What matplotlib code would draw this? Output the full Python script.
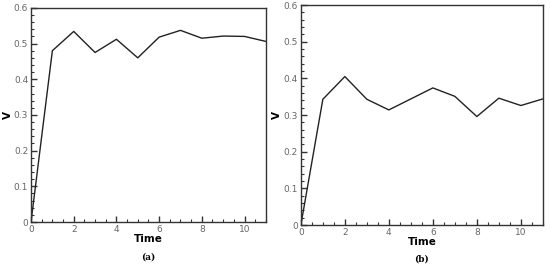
import matplotlib
matplotlib.use('Agg')
import numpy as np
import matplotlib.pyplot as plt
from matplotlib.ticker import MultipleLocator

# data
time = [0, 1, 2, 3, 4, 5, 6, 7, 8, 9, 10, 11]
v_a = [0.0, 0.480, 0.534, 0.475, 0.512, 0.460, 0.518, 0.537, 0.515, 0.521, 0.520, 0.506]
v_b = [0.0, 0.343, 0.405, 0.343, 0.314, 0.344, 0.374, 0.351, 0.296, 0.346, 0.326, 0.344]

fig = plt.figure(figsize=(5.5, 2.66), dpi=100)

#axes rectangles
rect_a = [0.0564, 0.1654, 0.427, 0.805]
rect_b = [0.547, 0.154, 0.44, 0.827]


def panel(rect, y, tag, taglabel_y):
    ax = fig.add_axes(rect)
    ax.plot(time, y, color='#222222', lw=1.0)
    ax.set_xlim(0, 11)
    ax.set_ylim(0, 0.6)
    ax.xaxis.set_major_locator(MultipleLocator(2))
    ax.xaxis.set_minor_locator(MultipleLocator(0.5))
    ax.yaxis.set_major_locator(MultipleLocator(0.1))
    ax.yaxis.set_minor_locator(MultipleLocator(0.02))
    ax.yaxis.set_major_formatter(matplotlib.ticker.FuncFormatter(
        lambda v, p: '0' if abs(v) < 1e-9 else ('%.1f' % v)))
    ax.tick_params(which='both', direction='in', top=False, right=False,
                   labelsize=6.5, labelcolor='#666666', color='#333333')
    ax.tick_params(which='major', length=4, width=1.0, pad=2)
    ax.tick_params(which='minor', length=2, width=0.8)
    for s in ax.spines.values():
        s.set_linewidth(1.0)
        s.set_color('#333333')
    ax.set_xlabel('Time', fontsize=7.5, fontweight='bold', labelpad=0)
    ax.set_ylabel('V', fontsize=7.5, fontweight='bold', labelpad=1)
    fig.text(rect[0] + rect[2] / 2, taglabel_y, tag, ha='center', va='center',
             fontsize=6.5, fontweight='bold', family='DejaVu Serif')
    return ax


panel(rect_a, v_a, '(a)', 0.035)
panel(rect_b, v_b, '(b)', 0.025)

plt.savefig('out.png', dpi=100)
